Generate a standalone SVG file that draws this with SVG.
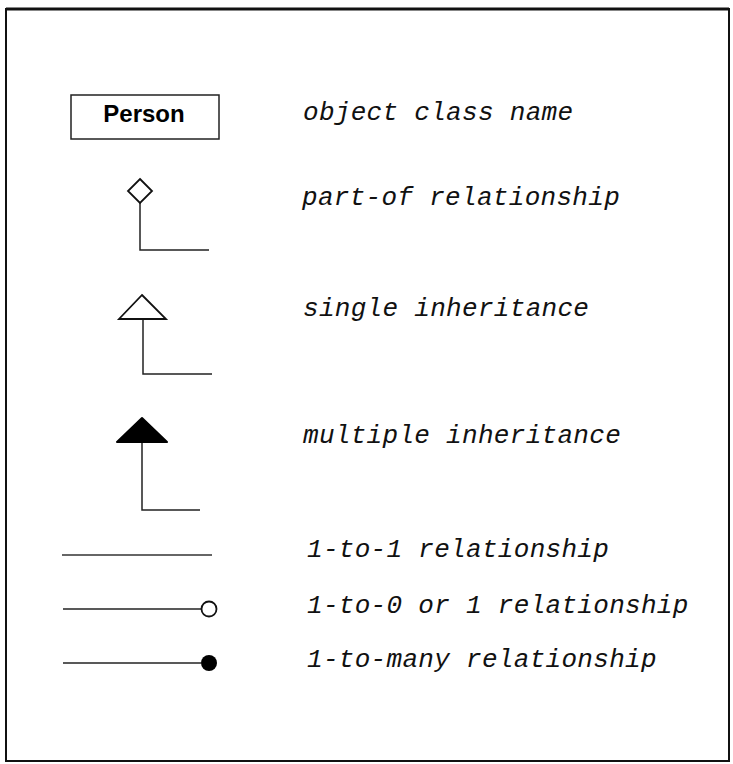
<svg xmlns="http://www.w3.org/2000/svg" width="733" height="764" viewBox="0 0 733 764">
<style>
.frame{fill:#fff;stroke:#111;stroke-width:2}
.box{fill:#fff;stroke:#222;stroke-width:1.5}
.ln{fill:none;stroke:#222;stroke-width:1.5}
.thin{fill:none;stroke:#333;stroke-width:1.3}
.open{fill:#fff;stroke:#111;stroke-width:1.8}
.solid{fill:#000;stroke:#000;stroke-width:2;stroke-linejoin:round}
.name{font-family:"Liberation Sans",Arial,sans-serif;font-weight:bold;font-size:24px;fill:#000}
.lbl{font-family:"Liberation Mono","Courier New",monospace;font-style:italic;font-size:26px;letter-spacing:0.3px;fill:#111}
</style>
<rect class="frame" x="6" y="9" width="723" height="752"/>
<line x1="6" y1="9" x2="729" y2="9" stroke="#111" stroke-width="3"/>
<g id="person">
<rect class="box" x="71" y="95" width="148" height="44"/>
<text class="name" x="144" y="122" text-anchor="middle">Person</text>
</g>
<g id="connectors">
<path class="ln" d="M140,203 V250 H209"/>
<path class="ln" d="M143,319 V374 H212"/>
<path class="ln" d="M142,443 V510 H200"/>
<line class="thin" x1="62" y1="555" x2="212" y2="555"/>
<line class="ln" x1="63" y1="609" x2="201" y2="609"/>
<line class="ln" x1="63" y1="663" x2="201" y2="663"/>
</g>
<g id="part-of-symbol">
<polygon class="open" points="140,179 152,191 140,203 128,191"/>
</g>
<g id="single-inheritance-symbol">
<polygon class="open" points="142,295 166,319 119,319"/>
</g>
<g id="multiple-inheritance-symbol">
<polygon class="solid" points="142,418 167,442 117,442"/>
</g>
<g id="zero-or-one-symbol">
<circle class="open" cx="209" cy="609" r="7.5"/>
</g>
<g id="many-symbol">
<circle cx="209" cy="663" r="8" fill="#000"/>
</g>
<g id="labels">
<text class="lbl" x="303" y="120">object class name</text>
<text class="lbl" x="302" y="205">part-of relationship</text>
<text class="lbl" x="303" y="316">single inheritance</text>
<text class="lbl" x="303" y="443">multiple inheritance</text>
<text class="lbl" x="307" y="557">1-to-1 relationship</text>
<text class="lbl" x="307" y="613">1-to-0 or 1 relationship</text>
<text class="lbl" x="307" y="667">1-to-many relationship</text>
</g>
</svg>
